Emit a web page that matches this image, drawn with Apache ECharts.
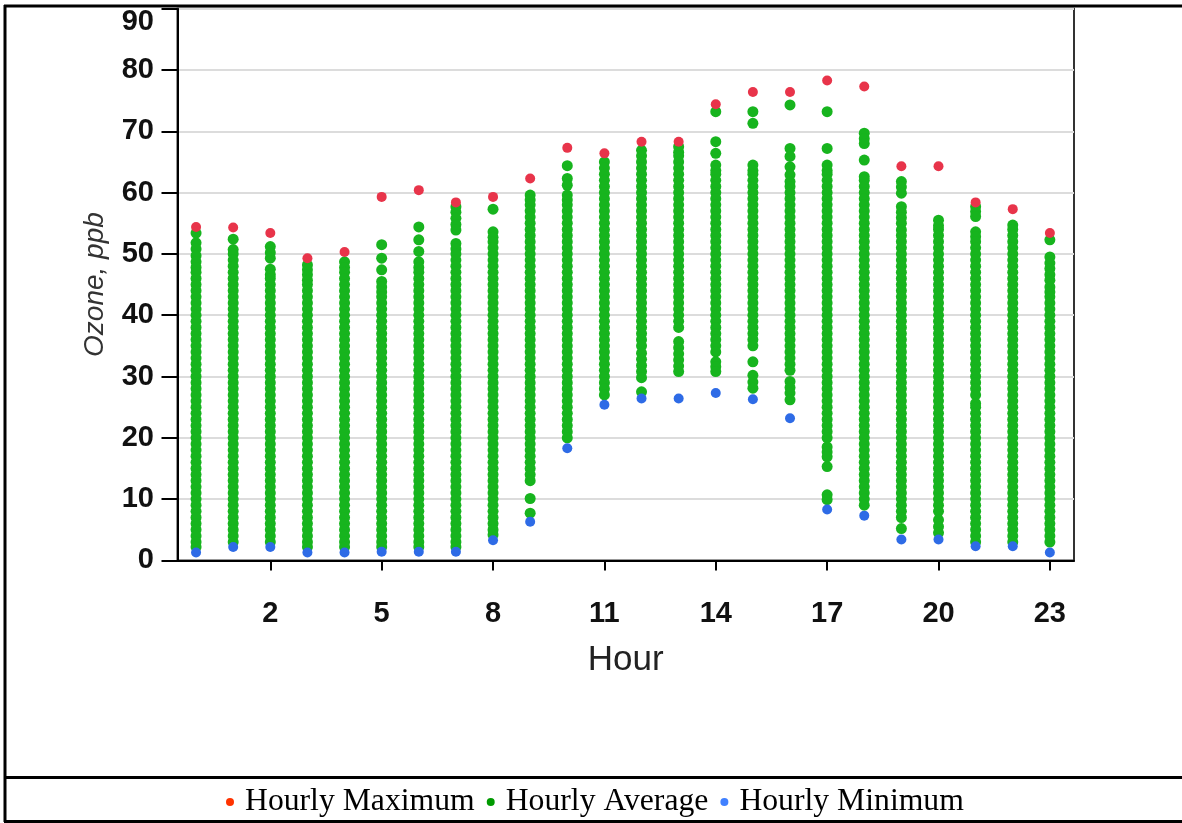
<!DOCTYPE html>
<html><head><meta charset="utf-8">
<script src="https://cdn.jsdelivr.net/npm/echarts@6/dist/echarts.min.js"></script>
<style>html,body{margin:0;padding:0;background:#fff}#c{width:1182px;height:823px}</style>
</head><body><div id="c"></div>
<script>
const hours = [0,1,2,3,4,5,6,7,8,9,10,11,12,13,14,15,16,17,18,19,20,21,22,23];
const hourTicks = [2,5,8,11,14,17,20,23];
const legendNames = ['Hourly Maximum','Hourly Average','Hourly Minimum'];
const hourlyMax = [54.4,54.3,53.4,49.3,50.3,59.3,60.4,58.4,59.3,62.3,67.3,66.4,68.3,68.3,74.4,76.4,76.4,78.3,77.3,64.3,64.3,58.4,57.3,53.4];
const hourlyMin = [1.3,2.2,2.2,1.3,1.3,1.4,1.4,1.4,3.3,6.3,18.3,25.4,26.4,26.4,27.3,26.3,23.2,8.3,7.3,3.4,3.4,2.3,2.3,1.3];
const hourlyAverage = [
 [53.4,51.8,50.8,49.7,48.7,47.8,47,46,45,44,43,42,41,40,39,38,37,36,35,34,33,32,31,30,29,28,27,26,25,24,23,22,21,20,19,18,17,16,15,14,13,12,11,10,9,8,7,6,5,4,3,2.2],
 [52.4,50.7,50,49,48,47,46,45,44,43,42,41,40,39,38,37,36,35,34,33,32,31,30,29,28,27,26,25,24,23,22,21,20,19,18,17,16,15,14,13,12,11,10,9,8,7,6,5,4,3],
 [51.2,50.2,49.3,47.5,46.6,46,45,44,43,42,41,40,39,38,37,36,35,34,33,32,31,30,29,28,27,26,25,24,23,22,21,20,19,18,17,16,15,14,13,12,11,10,9,8,7,6,5,4,3],
 [48.2,47.4,46.6,45.7,45,44,43,42,41,40,39,38,37,36,35,34,33,32,31,30,29,28,27,26,25,24,23,22,21,20,19,18,17,16,15,14,13,12,11,10,9,8,7,6,5,4,3,2.2],
 [48.7,47.8,47,46,45,44,43,42,41,40,39,38,37,36,35,34,33,32,31,30,29,28,27,26,25,24,23,22,21,20,19,18,17,16,15,14,13,12,11,10,9,8,7,6,5,4,3,2.2],
 [51.5,49.3,47.4,45.5,44.6,43.8,43,42,41,40,39,38,37,36,35,34,33,32,31,30,29,28,27,26,25,24,23,22,21,20,19,18,17,16,15,14,13,12,11,10,9,8,7,6,5,4,3,2.2],
 [54.4,52.3,50.4,48.7,47.8,47,46,45,44,43,42,41,40,39,38,37,36,35,34,33,32,31,30,29,28,27,26,25,24,23,22,21,20,19,18,17,16,15,14,13,12,11,10,9,8,7,6,5,4,3,2.2],
 [57.7,56.8,55.8,54.8,53.9,51.7,50.8,50,49,48,47,46,45,44,43,42,41,40,39,38,37,36,35,34,33,32,31,30,29,28,27,26,25,24,23,22,21,20,19,18,17,16,15,14,13,12,11,10,9,8,7,6,5,4,3,2.2],
 [57.3,53.6,52.7,52,51,50,49,48,47,46,45,44,43,42,41,40,39,38,37,36,35,34,33,32,31,30,29,28,27,26,25,24,23,22,21,20,19,18,17,16,15,14,13,12,11,10,9,8,7,6,5,4.2],
 [59.6,58.8,58,57,56,55,54,53,52,51,50,49,48,47,46,45,44,43,42,41,40,39,38,37,36,35,34,33,32,31,30,29,28,27,26,25,24,23,22,21,20,19,18,17,16,15,14,13,10.1,7.7],
 [64.4,62.3,61.2,59.6,58.8,58,57,56,55,54,53,52,51,50,49,48,47,46,45,44,43,42,41,40,39,38,37,36,35,34,33,32,31,30,29,28,27,26,25,24,23,22,21,20],
 [65,64,63,62,61,60,59,58,57,56,55,54,53,52,51,50,49,48,47,46,45,44,43,42,41,40,39,38,37,36,35,34,33,32,31,30,29,28,27],
 [66.9,66,65,64,63,62,61,60,59,58,57,56,55,54,53,52,51,50,49,48,47,46,45,44,43,42,41,40,39,38,37,36,35,33.8,32.8,31.8,30.8,29.8,27.5],
 [67.5,66.6,66,65,64,63,62,61,60,59,58,57,56,55,54,53,52,51,50,49,48,47,46,45,44,43,42,41,40,39,38,35.7,34.7,33.7,32.7,31.7,30.8],
 [73.2,68.3,66.4,64.5,63.6,63,62,61,60,59,58,57,56,55,54,53,52,51,50,49,48,47,46,45,44,43,42,41,40,39,38,37,36,35,34,32.4,31.6,30.8],
 [73.2,71.3,64.5,63.6,63,62,61,60,59,58,57,56,55,54,53,52,51,50,49,48,47,46,45,44,43,42,41,40,39,38,37,36,35,32.4,30.2,29.1,28.1],
 [74.3,67.2,65.9,64.2,62.9,61.8,61,60,59,58,57,56,55,54,53,52,51,50,49,48,47,46,45,44,43,42,41,40,39,38,37,36,35,34,33,32,31,29.2,28.2,27.3,26.2],
 [73.2,67.2,64.5,63.6,63,62,61,60,59,58,57,56,55,54,53,52,51,50,49,48,47,46,45,44,43,42,41,40,39,38,37,36,35,34,33,32,31,30,29,28,27,26,25,24,23,22,21,20,18.5,17.7,16.9,15.3,10.7,9.9],
 [69.7,68.8,68,65.3,62.6,62,61,60,59,58,57,56,55,54,53,52,51,50,49,48,47,46,45,44,43,42,41,40,39,38,37,36,35,34,33,32,31,30,29,28,27,26,25,24,23,22,21,20,19,18,17,16,15,14,13,12,11,10,9],
 [61.8,60.9,59.9,57.7,56.8,55.9,55,53.9,53,52,51,50,49,48,47,46,45,44,43,42,41,40,39,38,37,36,35,34,33,32,31,30,29,28,27,26,25,24,23,22,21,20,19,18,17,16,15,14,13,12,11,10,9,8,7,5.2],
 [55.5,54.6,54,53,52,51,50,49,48,47,46,45,44,43,42,41,40,39,38,37,36,35,34,33,32,31,30,29,28,27,26,25,24,23,22,21,20,19,18,17,16,15,14,13,12,11,10,9,8,6.6,5.5,4.5],
 [57.7,56.9,56.1,53.6,52.8,52,51,50,49,48,47,46,45,44,43,42,41,40,39,38,37,36,35,34,33,32,31,30,29,28,27,25.6,25,24,23,22,21,20,19,18,17,16,15,14,13,12,11,10,9,8,7,6,5,4,3],
 [54.7,54,53,52,51,50,49,48,47,46,45,44,43,42,41,40,39,38,37,36,35,34,33,32,31,30,29,28,27,26,25,24,23,22,21,20,19,18,17,16,15,14,13,12,11,10,9,8,7,6,5,4,3],
 [52.3,49.5,48.5,47.6,46.6,45.7,44.6,43.8,43,42,41,40,39,38,37,36,35,34,33,32,31,30,29,28,27,26,25,24,23,22,21,20,19,18,17,16,15,14,13,12,11,10,9,8,7,6,5,4,3]
];

const maxData = hours.map((h, i) => [h, hourlyMax[i]]);
const minData = hours.map((h, i) => [h, hourlyMin[i]]);
const avgData = [];
hours.forEach((h, i) => hourlyAverage[i].forEach(v => avgData.push([h, v])));

const sans = "'Liberation Sans', Arial, Helvetica, sans-serif";
const chart = echarts.init(document.getElementById('c'), null, {renderer: 'canvas'});
const W = 1182;
chart.setOption({
  animation: false,
  backgroundColor: '#fff',
  grid: {left: 177.5, right: 108, top: 8.7, bottom: 262.6, show: true, borderColor: '#333', borderWidth: 2, containLabel: false},
  xAxis: {
    type: 'value', min: -0.5, max: 23.65,
    name: 'Hour', nameLocation: 'middle', nameGap: 82,
    nameTextStyle: {fontFamily: sans, fontSize: 35, color: '#222'},
    axisLine: {show: true, onZero: false, lineStyle: {color: '#000', width: 2}},
    axisTick: {show: true, customValues: hourTicks, length: 10, lineStyle: {color: '#000', width: 2}},
    axisLabel: {customValues: hourTicks, margin: 39, fontFamily: sans, fontSize: 29, fontWeight: 'bold', color: '#111'},
    splitLine: {show: false}
  },
  yAxis: {
    type: 'value', min: 0, max: 90, interval: 10,
    name: 'Ozone, ppb', nameLocation: 'middle', nameGap: 68,
    nameTextStyle: {fontFamily: sans, fontSize: 28, fontStyle: 'italic', color: '#333'},
    axisLine: {show: true, onZero: false, lineStyle: {color: '#000', width: 2}},
    axisTick: {show: true, length: 16, lineStyle: {color: '#000', width: 2}},
    axisLabel: {
      margin: 23.5, fontFamily: sans, fontSize: 29, fontWeight: 'bold', color: '#111',
      formatter: v => v === 90 ? '{t|90}' : String(v),
      rich: {t: {fontFamily: sans, fontSize: 29, fontWeight: 'bold', color: '#111', padding: [27, 0, 0, 0]}}
    },
    splitLine: {show: true, lineStyle: {color: '#dcdcdc', width: 2}}
  },
  legend: {
    left: 226, top: 786, padding: 0, orient: 'horizontal', selectedMode: false,
    itemWidth: 8, itemHeight: 8, itemGap: 12, icon: 'circle',
    textStyle: {fontFamily: "'Liberation Serif', 'Times New Roman', serif", fontSize: 31.7, color: '#000', padding: [0, 0, 0, 6]},
    data: [
      {name: legendNames[0], itemStyle: {color: '#ff3300'}},
      {name: legendNames[1], itemStyle: {color: '#009a00'}},
      {name: legendNames[2], itemStyle: {color: '#4080ff'}}
    ]
  },
  graphic: [
    {type: 'line', shape: {x1: 5, y1: 5, x2: 5, y2: 822}, style: {stroke: '#000', lineWidth: 3}},
    {type: 'line', shape: {x1: 4, y1: 6, x2: W, y2: 6}, style: {stroke: '#000', lineWidth: 3}},
    {type: 'line', shape: {x1: 4, y1: 777.5, x2: W, y2: 777.5}, style: {stroke: '#000', lineWidth: 3}},
    {type: 'line', shape: {x1: 4, y1: 821.5, x2: W, y2: 821.5}, style: {stroke: '#000', lineWidth: 3}}
  ],
  series: [
    {name: legendNames[0], type: 'scatter', data: maxData, symbolSize: 10, z: 4, itemStyle: {color: '#e8344a', opacity: 1}},
    {name: legendNames[1], type: 'scatter', data: avgData, symbolSize: 11, z: 2, itemStyle: {color: '#17b41e', opacity: 1}},
    {name: legendNames[2], type: 'scatter', data: minData, symbolSize: 10, z: 4, itemStyle: {color: '#2e6be6', opacity: 1}}
  ]
});
</script></body></html>
